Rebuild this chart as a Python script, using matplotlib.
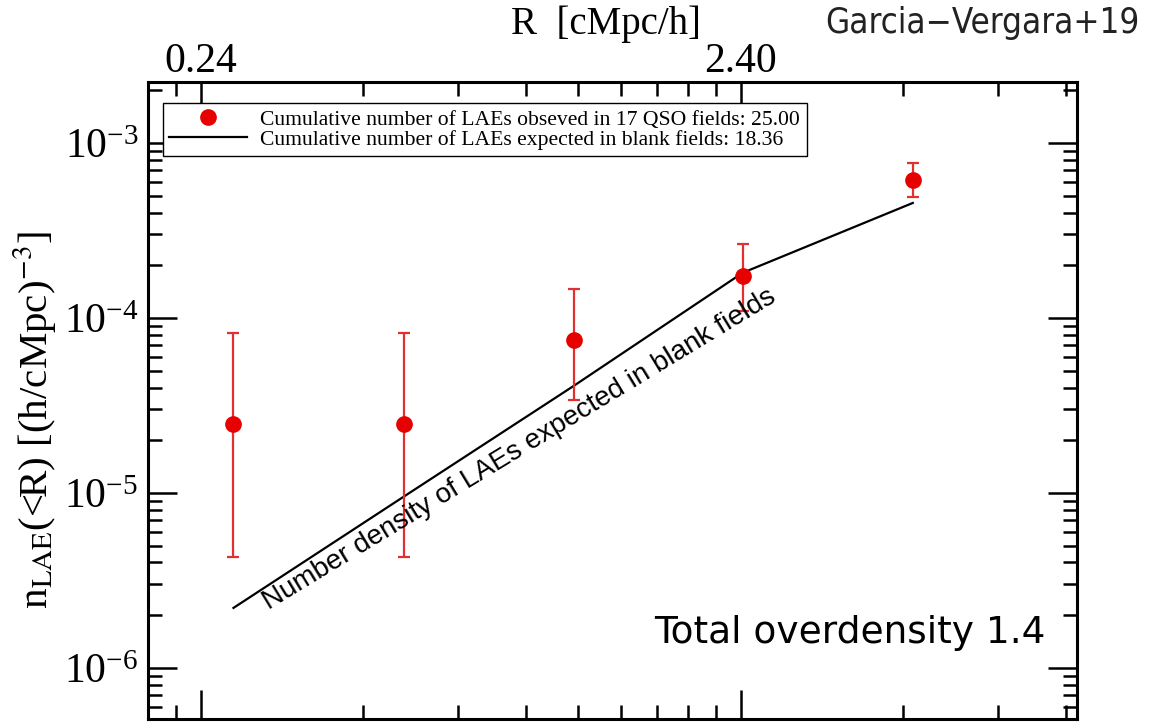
import matplotlib
matplotlib.use('Agg')
import matplotlib.pyplot as plt
from matplotlib.lines import Line2D
from matplotlib.ticker import FixedLocator, FuncFormatter, LogLocator, NullFormatter

plt.rcParams['font.family'] = 'serif'
plt.rcParams['font.serif'] = ['Liberation Serif', 'DejaVu Serif']
plt.rcParams['mathtext.fontset'] = 'stix'

# 数据 (R 单位 cMpc/h)
r_obs = [0.276, 0.570, 1.178, 2.42, 5.00]
n_obs = [2.48e-5, 2.48e-5, 7.48e-5, 1.74e-4, 6.15e-4]
n_obs_hi = [8.2e-5, 8.2e-5, 1.47e-4, 2.65e-4, 7.69e-4]
n_obs_lo = [4.31e-6, 4.31e-6, 3.40e-5, 1.10e-4, 4.91e-4]

r_blank = [0.276, 0.570, 1.178, 2.42, 5.00]
n_blank = [2.20e-6, 9.5e-6, 4.09e-5, 1.81e-4, 4.54e-4]

top_major = [0.24, 2.40]
top_minor = [0.24 * k for k in [0.8, 0.9, 2, 3, 4, 5, 6, 7, 8, 9, 20, 30, 40]]

fig = plt.figure(figsize=(11.51, 7.28), dpi=100)
ax = fig.add_axes([148 / 1151, 1 - 719 / 728, 929 / 1151, 637 / 728])

ax.set_xscale('log')
ax.set_yscale('log')
ax.set_xlim(0.1917, 10.07)
ax.set_ylim(5.1e-7, 2.23e-3)

# 观测点 + 误差棒
yerr = [[n - lo for n, lo in zip(n_obs, n_obs_lo)],
        [hi - n for n, hi in zip(n_obs, n_obs_hi)]]
ax.errorbar(r_obs, n_obs, yerr=yerr, fmt='o', color='#e60000', ms=11,
            ecolor='#e03030', elinewidth=1.6, capsize=4.5, capthick=1.6, zorder=3)

# 空场期望
ax.plot(r_blank, n_blank, color='black', lw=1.6, zorder=2)

ax.text(0.321, 2.14e-6, 'Number density of LAEs expected in blank fields',
        family='Liberation Sans', fontsize=20, rotation=31.3,
        rotation_mode='anchor', ha='left', va='baseline')

ax.text(0.9656, 1 - (643 - 82) / 637, 'Total overdensity 1.4', transform=ax.transAxes,
        family='DejaVu Sans', fontsize=27, ha='right', va='baseline')

# 刻度
ax.xaxis.set_major_locator(FixedLocator(top_major))
ax.xaxis.set_minor_locator(FixedLocator(top_minor))
ax.xaxis.set_major_formatter(FuncFormatter(lambda v, p: '%.2f' % v))
ax.xaxis.set_minor_formatter(NullFormatter())
ax.yaxis.set_major_locator(LogLocator(base=10, numticks=20))
ax.yaxis.set_minor_locator(LogLocator(base=10, subs=range(2, 10), numticks=20))
ax.yaxis.set_minor_formatter(NullFormatter())

ax.tick_params(which='both', direction='in', top=True, right=True, bottom=True, left=True,
               labeltop=True, labelbottom=False, labelright=False, width=1.8)
ax.tick_params(which='major', length=21, labelsize=30)
ax.tick_params(which='minor', length=10)
ax.tick_params(axis='x', which='major', pad=1)
ax.tick_params(axis='y', which='major', pad=7)
for s in ax.spines.values():
    s.set_linewidth(2.2)

# 图例
handles = [Line2D([], [], ls='none', marker='o', color='#e60000', ms=11),
           Line2D([], [], color='black', lw=1.6)]
labels = ['Cumulative number of LAEs obseved in 17 QSO fields: 25.00',
          'Cumulative number of LAEs expected in blank fields: 18.36']
leg = ax.legend(handles, labels, loc='upper left', bbox_to_anchor=(0.016, 0.967),
                borderaxespad=0, fontsize=15.6, frameon=True, fancybox=False,
                edgecolor='black', framealpha=1, handlelength=3.6, handletextpad=0.6,
                labelspacing=0.0, borderpad=0.3)
leg.get_frame().set_linewidth(1.0)

# 标签
fig.text(35 / 1151, 1 - 420 / 728, r'n$_{\rm LAE}$(<R) [(h/cMpc)$^{-3}$]',
         rotation=90, ha='center', va='center', fontsize=29.5)
fig.text(606 / 1151, 1 - 34 / 728, 'R  [cMpc/h]', ha='center', va='baseline', fontsize=28)
fig.text(1140 / 1151, 1 - 33 / 728, 'Garcia\u2212Vergara+19', ha='right', va='baseline',
         family='DejaVu Sans', fontstretch='condensed', fontsize=25, color='#222222')

plt.savefig('out.png', dpi=100)
